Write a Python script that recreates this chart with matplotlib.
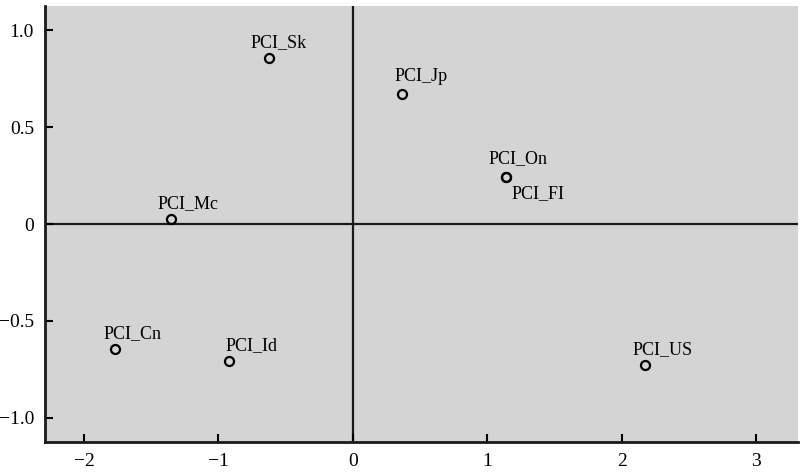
import numpy as np
import matplotlib
matplotlib.use("Agg")
import matplotlib.pyplot as plt

names = ["PCI_Sk", "PCI_Jp", "PCI_On", "PCI_FI", "PCI_Mc", "PCI_Cn", "PCI_Id", "PCI_US"]
dim1 = [-0.625, 0.362, 1.138, 1.138, -1.353, -1.770, -0.922, 2.171]
dim2 = [0.854, 0.669, 0.242, 0.240, 0.026, -0.644, -0.706, -0.727]

xticks = [-2, -1, 0, 1, 2, 3]
xtick_labels = ["\u22122", "\u22121", "0", "1", "2", "3"]
yticks = [-1.0, -0.5, 0, 0.5, 1.0]
ytick_labels = ["\u22121.0", "\u22120.5", "0", "0.5", "1.0"]

# label offsets in points (dx, dy)
offs = {"PCI_Sk": (7, 5), "PCI_Jp": (14, 7), "PCI_On": (9, 7), "PCI_FI": (23, -18),
        "PCI_Mc": (12, 5), "PCI_Cn": (13, 5), "PCI_Id": (16, 5), "PCI_US": (13, 5)}

plt.rcParams['font.family'] = ['Liberation Serif', 'DejaVu Serif']

fig = plt.figure(figsize=(8.01, 4.74), dpi=100)
ax = fig.add_axes([45/801, 32/474, 753/801, 436/474])
ax.set_facecolor('#d4d4d4')

ax.axhline(0, color='#1a1a1a', lw=1.6, zorder=1)
ax.axvline(0, color='#1a1a1a', lw=1.6, zorder=1)
ax.plot(dim1, dim2, 'o', ms=6.5, mfc='none', mec='black', mew=1.6, zorder=3)

for n, x, y in zip(names, dim1, dim2):
    ax.annotate(n, (x, y), xytext=offs[n], textcoords='offset points',
                ha='center', va='bottom', fontsize=13)

ax.set_xlim(-2.29, 3.31)
ax.set_ylim(-1.124, 1.124)
ax.set_xticks(xticks)
ax.set_xticklabels(xtick_labels)
ax.set_yticks(yticks)
ax.set_yticklabels(ytick_labels)
ax.tick_params(direction='in', length=6, width=1.5, labelsize=14, pad=8)
for s in ['top', 'right']:
    ax.spines[s].set_visible(False)
for s in ['left', 'bottom']:
    ax.spines[s].set_linewidth(2)
    ax.spines[s].set_color('#1a1a1a')

fig.savefig('out.png', dpi=100)
